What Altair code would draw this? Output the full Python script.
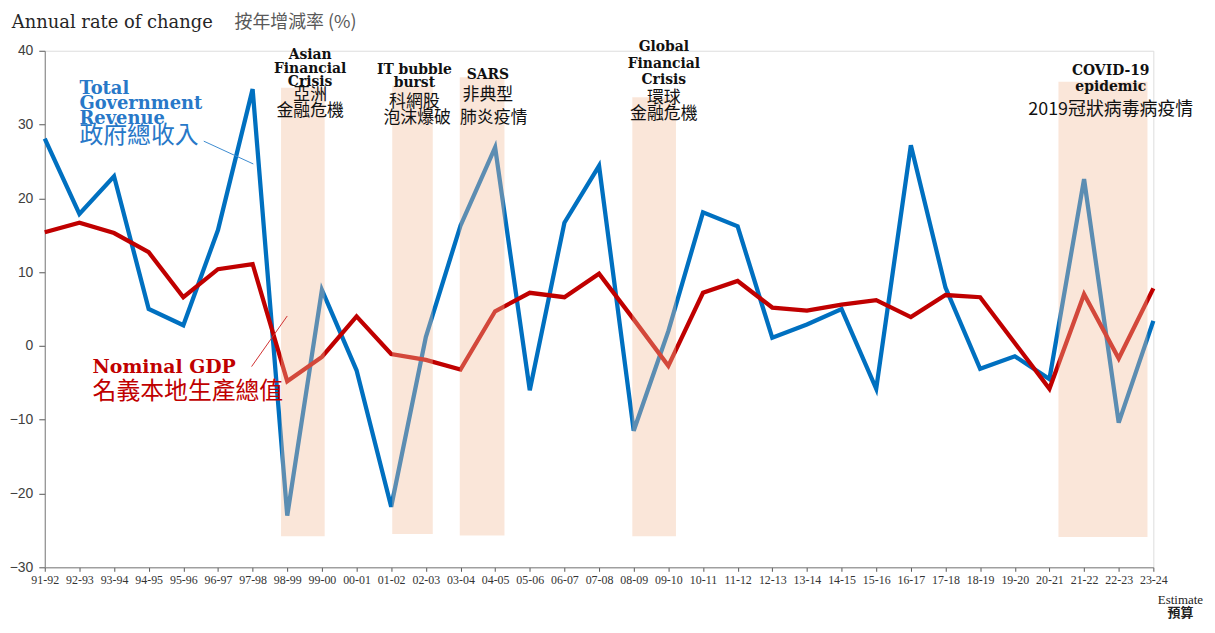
import altair as alt
import pandas as pd

years = ["91-92", "92-93", "93-94", "94-95", "95-96", "96-97", "97-98", "98-99", "99-00",
         "00-01", "01-02", "02-03", "03-04", "04-05", "05-06", "06-07", "07-08", "08-09",
         "09-10", "10-11", "11-12", "12-13", "13-14", "14-15", "15-16", "16-17", "17-18",
         "18-19", "19-20", "20-21", "21-22", "22-23", "23-24"]
revenue = [28.1, 17.9, 23.0, 5.0, 2.8, 15.7, 34.8, -23.0, 7.6, -3.3, -21.8, 1.2, 16.3, 26.9,
           -6.0, 16.7, 24.4, -11.5, 2.0, 18.1, 16.2, 1.1, 2.9, 5.0, -5.8, 27.2, 7.9, -3.1,
           -1.4, -4.5, 22.6, -10.4, 3.4]
gdp = [15.4, 16.7, 15.3, 12.7, 6.6, 10.4, 11.1, -4.8, -1.5, 4.0, -1.1, -1.9, -3.2, 4.7, 7.2,
       6.6, 9.8, 3.6, -2.7, 7.2, 8.8, 5.2, 4.8, 5.6, 6.2, 3.9, 6.9, 6.6, 0.4, -5.8, 7.0,
       -1.7, 7.8]

# shaded crisis periods (x in category-index units)
band_x = [6.82, 10.03, 11.98, 16.96, 29.26]
band_x2 = [8.08, 11.2, 13.27, 18.22, 31.83]
band_top = [35.0, 35.3, 36.4, 33.7, 35.8]
band_bottom = [-25.8, -25.5, -25.7, -25.8, -25.9]

# annotation labels
en_text = ["Asian", "Financial", "Crisis", "IT bubble", "burst", "SARS",
           "Global", "Financial", "Crisis", "COVID-19", "epidemic"]
en_x = [7.66, 7.66, 7.66, 10.67, 10.67, 12.79, 17.87, 17.87, 17.87, 30.77, 30.77]
en_y = [39.46, 37.58, 35.83, 37.44, 35.56, 36.77, 40.54, 38.25, 36.1, 37.31, 35.02]

zh_text = ["亞洲", "金融危機", "科網股", "泡沫爆破", "非典型", "肺炎疫情",
           "環球", "金融危機", "2019冠狀病毒病疫情"]
zh_x = [7.66, 7.66, 10.67, 10.75, 12.79, 12.96, 17.87, 17.87, 30.77]
zh_y = [33.95, 31.85, 33.0, 30.9, 33.95, 30.9, 33.55, 31.45, 32.0]

rev_label_en = ["Total", "Government", "Revenue"]
rev_label_en_y = [34.75, 32.73, 30.71]
rev_label_zh = ["政府總收入"]
rev_label_zh_y = [28.4]
gdp_label_en = ["Nominal GDP"]
gdp_label_zh = ["名義本地生產總值"]

blue = "#0070C0"
red = "#C00000"

line_df = pd.DataFrame({"i": list(range(len(years))), "year": years,
                        "revenue": revenue, "gdp": gdp})
band_df = pd.DataFrame({"x": band_x, "x2": band_x2, "y": band_top, "y2": band_bottom})
en_df = pd.DataFrame({"x": en_x, "y": en_y, "t": en_text})
zh_df = pd.DataFrame({"x": zh_x[:-1], "y": zh_y[:-1], "t": zh_text[:-1]})
zh_covid_df = pd.DataFrame({"x": zh_x[-1:], "y": zh_y[-1:], "t": zh_text[-1:]})

label_expr = "[" + ",".join(f"'{y}'" for y in years) + "][datum.value]"

xscale = alt.Scale(domain=[0, 32], nice=False, zero=False)
yscale = alt.Scale(domain=[-30, 40], nice=False, zero=False)

xaxis = alt.Axis(values=list(range(33)), labelExpr=label_expr, title=None, grid=False,
                 labelFont="Liberation Serif", labelFontSize=12, labelColor="#333333",
                 labelOverlap=False, labelAngle=0, tickSize=4, tickColor="#555555",
                 domainColor="#7f7f7f", labelPadding=3, labelFlush=False,
                 labelSeparation=0)
yaxis = alt.Axis(values=list(range(-30, 41, 10)), title=None, grid=False,
                 labelFont="Liberation Sans", labelFontSize=14, labelColor="#404040",
                 tickSize=6, tickColor="#555555", domainColor="#7f7f7f", labelPadding=6)

base = alt.Chart(line_df)

rev_line = base.mark_line(color=blue, strokeWidth=4.3).encode(
    x=alt.X("i:Q", scale=xscale, axis=xaxis),
    y=alt.Y("revenue:Q", scale=yscale, axis=yaxis),
)
gdp_line = base.mark_line(color=red, strokeWidth=4.3).encode(
    x=alt.X("i:Q", scale=xscale, axis=xaxis),
    y=alt.Y("gdp:Q", scale=yscale, axis=yaxis),
)

bands = alt.Chart(band_df).mark_rect(color="#F3BC9B", opacity=0.38).encode(
    x=alt.X("x:Q", scale=xscale, axis=xaxis), x2="x2:Q",
    y=alt.Y("y:Q", scale=yscale, axis=yaxis), y2="y2:Q")

leader_df = pd.DataFrame({"x": [4.59, 5.97], "y": [27.75, -2.8],
                          "x2": [6.02, 7.0], "y2": [24.66, 4.06],
                          "c": ["rev", "gdp"]})
leaders = alt.Chart(leader_df).mark_rule(strokeWidth=1).encode(
    x=alt.X("x:Q", scale=xscale, axis=xaxis), y=alt.Y("y:Q", scale=yscale, axis=yaxis),
    x2="x2:Q", y2="y2:Q",
    color=alt.Color("c:N", scale=alt.Scale(domain=["rev", "gdp"], range=["#3C8BD0", "#D03030"]),
                    legend=None))


def text_layer(df, **kw):
    return alt.Chart(df).mark_text(baseline="middle", **kw).encode(
        x=alt.X("x:Q", scale=xscale, axis=xaxis),
        y=alt.Y("y:Q", scale=yscale, axis=yaxis),
        text="t:N")


en_ann = text_layer(en_df, font="DejaVu Serif", fontWeight="bold", fontSize=14,
                    color="#111111", align="center")
zh_ann = text_layer(zh_df, font="Noto Sans CJK TC", fontSize=17,
                    color="#111111", align="center")
zh_covid = text_layer(zh_covid_df, font="Noto Sans CJK TC", fontSize=18,
                      color="#111111", align="center")

rev_en_df = pd.DataFrame({"x": [1.0] * 3, "y": rev_label_en_y, "t": rev_label_en})
rev_zh_df = pd.DataFrame({"x": [1.0], "y": rev_label_zh_y, "t": rev_label_zh})
gdp_en_df = pd.DataFrame({"x": [1.38], "y": [-2.8], "t": gdp_label_en})
gdp_zh_df = pd.DataFrame({"x": [1.38], "y": [-6.3], "t": gdp_label_zh})

rev_en = text_layer(rev_en_df, font="DejaVu Serif", fontWeight="bold", fontSize=18,
                    color="#2878C8", align="left")
rev_zh = text_layer(rev_zh_df, font="Noto Sans CJK TC", fontSize=24,
                    color="#2878C8", align="left")
gdp_en = text_layer(gdp_en_df, font="DejaVu Serif", fontWeight="bold", fontSize=19,
                    color=red, align="left")
gdp_zh = text_layer(gdp_zh_df, font="Noto Sans CJK TC", fontSize=24,
                    color=red, align="left")

title_en_df = pd.DataFrame({"x": [-0.95], "y": [43.8], "t": ["Annual rate of change"]})
title_zh_df = pd.DataFrame({"x": [5.48], "y": [43.8], "t": ["按年增減率 (%)"]})
title_en = text_layer(title_en_df, font="DejaVu Serif", fontSize=18, color="#262626",
                      align="left")
title_zh = text_layer(title_zh_df, font="Noto Sans CJK TC", fontSize=18, color="#595959",
                      align="left")

est_df = pd.DataFrame({"x": [32.78], "y": [-34.4], "t": ["Estimate"]})
est_zh_df = pd.DataFrame({"x": [32.78], "y": [-36.15], "t": ["預算"]})
est = text_layer(est_df, font="Liberation Serif", fontSize=13, color="#222222",
                 align="center")
est_zh = text_layer(est_zh_df, font="Noto Sans CJK TC", fontSize=13, fontWeight="bold",
                    color="#222222", align="center")

chart = alt.layer(
    rev_line, gdp_line, bands, leaders, en_ann, zh_ann, zh_covid,
    rev_en, rev_zh, gdp_en, gdp_zh, title_en, title_zh, est, est_zh
).properties(
    width=1116, height=520,
    autosize=alt.AutoSizeParams(type="none"),
    padding={"left": 37, "top": 41, "right": 54, "bottom": 51},
).configure_view(stroke=None).configure(background="white").configure_axisX(
    labelOverlap=False, labelSeparation=0)

chart.save("out.html", embed_options={"renderer": "svg", "actions": False})
